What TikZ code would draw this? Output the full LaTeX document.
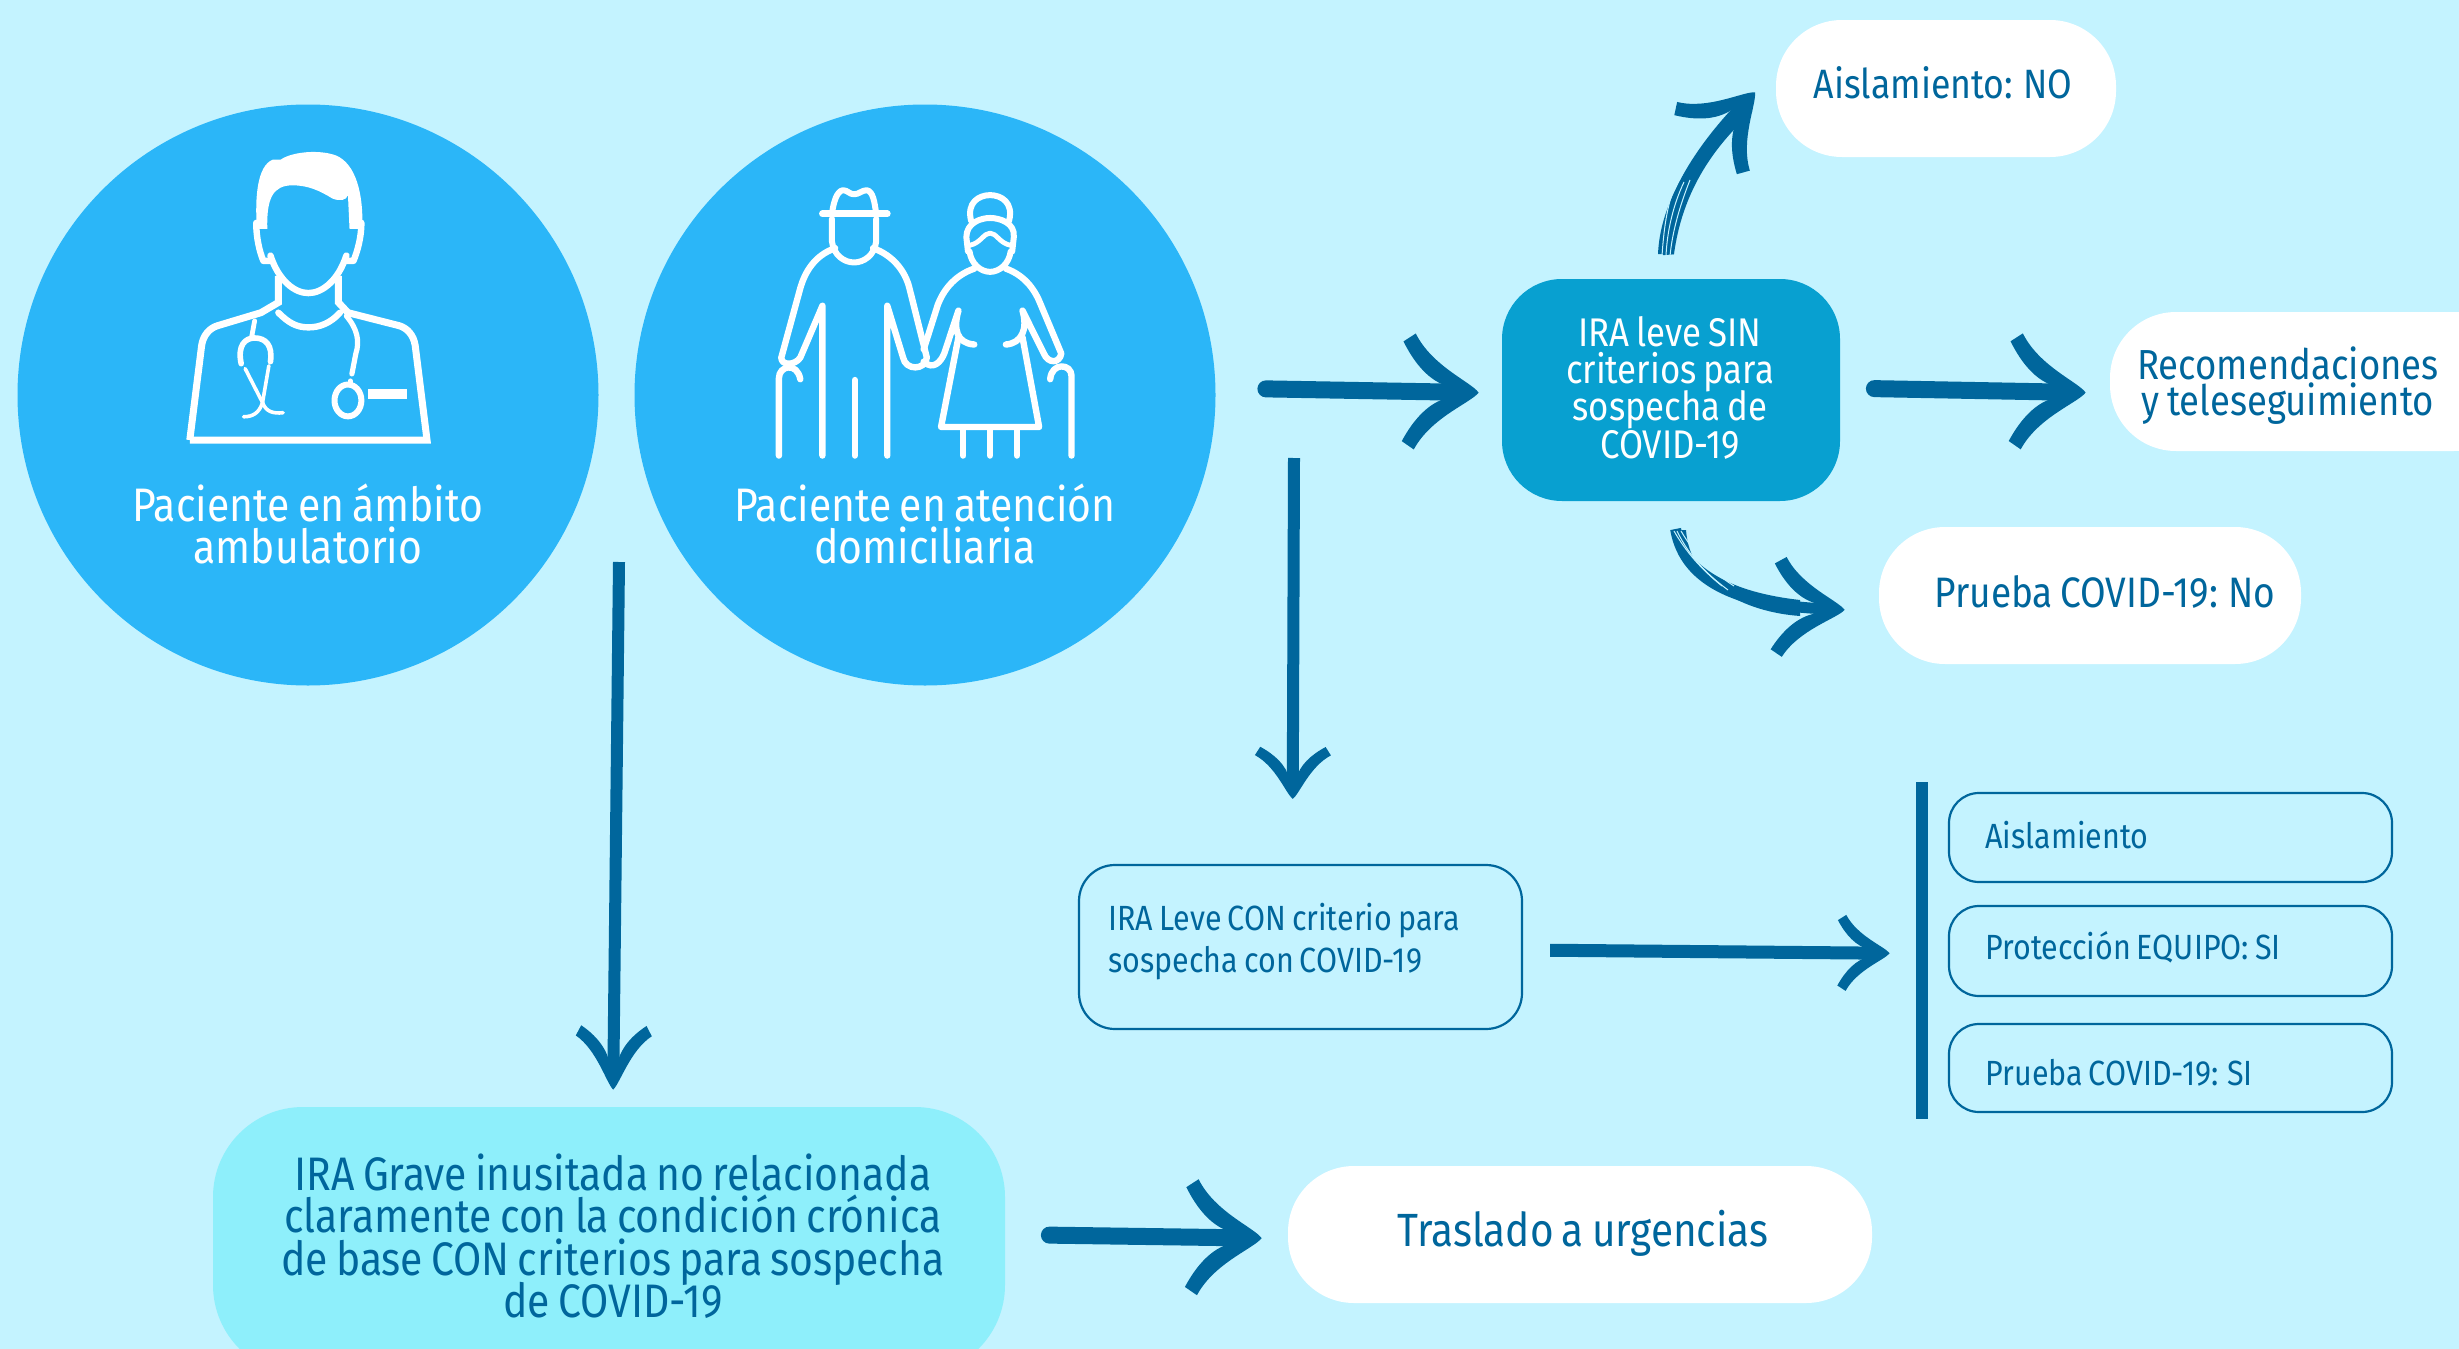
\documentclass[tikz,border=0pt]{standalone}
\usepackage{fontspec}
\setmainfont{Fira Sans}[FakeStretch=0.87,WordSpace=0.75]
\usetikzlibrary{arrows.meta,calc}
\definecolor{bgblue}{HTML}{C4F3FF}
\definecolor{circblue}{HTML}{2BB6F8}
\definecolor{sinblue}{HTML}{08A0D0}
\definecolor{graveblue}{HTML}{8EEFFB}
\definecolor{inkblue}{HTML}{00669C}
\pgfdeclarearrow{
  name=BrushTip,
  parameters={\the\pgfarrowlength,\the\pgfarrowwidth},
  setup code={
    \pgfarrowssettipend{0pt}
    \pgfarrowssetbackend{-\pgfarrowlength}
    \pgfarrowssetlineend{-0.3\pgfarrowlength}
    \pgfarrowssetvisualbackend{-0.3\pgfarrowlength}
    \pgfarrowssavethe\pgfarrowlength
    \pgfarrowssavethe\pgfarrowwidth
  },
  drawing code={
    \pgfpathmoveto{\pgfpoint{0pt}{0pt}}
    \pgfpathcurveto{\pgfpoint{-.1\pgfarrowlength}{.09\pgfarrowwidth}}{\pgfpoint{-.62\pgfarrowlength}{.22\pgfarrowwidth}}{\pgfpoint{-.84\pgfarrowlength}{.5\pgfarrowwidth}}
    \pgfpathlineto{\pgfpoint{-1\pgfarrowlength}{.43\pgfarrowwidth}}
    \pgfpathcurveto{\pgfpoint{-.85\pgfarrowlength}{.24\pgfarrowwidth}}{\pgfpoint{-.65\pgfarrowlength}{.09\pgfarrowwidth}}{\pgfpoint{-.4\pgfarrowlength}{.05\pgfarrowwidth}}
    \pgfpathlineto{\pgfpoint{-.4\pgfarrowlength}{-.05\pgfarrowwidth}}
    \pgfpathcurveto{\pgfpoint{-.65\pgfarrowlength}{-.09\pgfarrowwidth}}{\pgfpoint{-.85\pgfarrowlength}{-.24\pgfarrowwidth}}{\pgfpoint{-1\pgfarrowlength}{-.43\pgfarrowwidth}}
    \pgfpathlineto{\pgfpoint{-.84\pgfarrowlength}{-.5\pgfarrowwidth}}
    \pgfpathcurveto{\pgfpoint{-.62\pgfarrowlength}{-.22\pgfarrowwidth}}{\pgfpoint{-.1\pgfarrowlength}{-.09\pgfarrowwidth}}{\pgfpoint{0pt}{0pt}}
    \pgfpathclose
    \pgfusepathqfill
  },
  defaults={length=38pt,width=55pt}
}
\tikzset{
  bigarrow/.style={draw=inkblue,line width=8.5pt,line cap=round,-{BrushTip[length=38pt,width=58pt,color=inkblue,fill=inkblue]}},
  thinarrow/.style={draw=inkblue,line width=6pt,-{BrushTip[length=#1,width=38pt,color=inkblue,fill=inkblue]}},
  curvearrow/.style={draw=inkblue,line width=5.5pt,-{BrushTip[length=36pt,width=50pt,color=inkblue,fill=inkblue]}},
  streak/.style={draw=bgblue,line width=.5pt},
  circ/.style={circle,fill=circblue,minimum size=290.5pt,inner sep=0pt},
  pill/.style={rectangle,fill=white,rounded corners=33pt,inner sep=0pt},
  outl/.style={rectangle,draw=inkblue,line width=1.1pt,fill=none,inner sep=0pt},
  ico/.style={draw=white,line width=3.2pt,line cap=round,line join=round},
  icothin/.style={draw=white,line width=1.8pt,line cap=round,line join=round},
  lbl/.style={font=\fontsize{#1}{#1}\selectfont,inner sep=0pt,text height={.69*#1},text depth={.17*#1}},
  whitetxt/.style={lbl=#1,text=white,anchor=base},
  inktxt/.style={lbl=#1,text=inkblue,anchor=base},
  inkleft/.style={lbl=#1,text=inkblue,anchor=base west},
}
\begin{document}
\begin{tikzpicture}[x=.5pt,y=-.5pt]
\clip (0,0) rectangle (2459,1349);
\fill[bgblue] (0,0) rectangle (2459,1349);
% main shapes
\node[circ] (c1) at (308,395) {};
\node[circ] (c2) at (925,395) {};
\node[pill,minimum width=170pt,minimum height=68.5pt] (aisNo) at (1946,88.5) {};
\node[rectangle,fill=sinblue,rounded corners=30pt,minimum width=169pt,minimum height=111pt] (iraSin) at (1671,390) {};
\node[pill,minimum width=205pt,minimum height=69.5pt] (recom) at (2315,381.5) {};
\node[pill,minimum width=211pt,minimum height=68.5pt] (pruebaNo) at (2090,595.5) {};
\node[outl,rounded corners=18pt,minimum width=221.5pt,minimum height=82pt] (iraCon) at (1300.5,947) {};
\node[outl,rounded corners=15pt,minimum width=221.5pt,minimum height=44.5pt] (boxAis) at (2170.5,837.5) {};
\node[outl,rounded corners=15pt,minimum width=221.5pt,minimum height=45pt] (boxProt) at (2170.5,951) {};
\node[outl,rounded corners=15pt,minimum width=221.5pt,minimum height=44pt] (boxPru) at (2170.5,1068) {};
\node[rectangle,fill=inkblue,minimum width=6pt,minimum height=168.5pt,inner sep=0pt] (bar) at (1922,950.5) {};
\node[rectangle,fill=graveblue,rounded corners=45pt,minimum width=396pt,minimum height=134pt] (iraGrave) at (609,1241) {};
\node[pill,rounded corners=33pt,minimum width=292pt,minimum height=68.5pt] (traslado) at (1580,1234.5) {};
% texts
\node[whitetxt=23.5pt] (t1a) at (308,521) {Paciente en ámbito};
\node[whitetxt=23.5pt] (t1b) at (308,563) {ambulatorio};
\node[whitetxt=23.5pt] (t2a) at (925,521) {Paciente en atención};
\node[whitetxt=23.5pt] (t2b) at (925,563) {domiciliaria};
\node[inktxt=20.5pt] (tNo) at (1943,98.5) {Aislamiento: NO};
\node[whitetxt=20pt] (s1) at (1670,346.5) {IRA leve SIN};
\node[whitetxt=20pt] (s2) at (1670,383.5) {criterios para};
\node[whitetxt=20pt] (s3) at (1670,420.5) {sospecha de};
\node[whitetxt=20pt] (s4) at (1670,458) {COVID-19};
\node[inktxt=21pt] (r1) at (2288,379) {Recomendaciones};
\node[inktxt=21pt] (r2) at (2288,415.5) {y teleseguimiento};
\node[inktxt=21.3pt] (tPNo) at (2105,607) {Prueba COVID-19: No};
\node[inkleft=17.5pt] (c1t) at (1108,930) {IRA Leve CON criterio para};
\node[inkleft=17.5pt] (c2t) at (1108,972.5) {sospecha con COVID-19};
\node[inkleft=17.5pt] (a1t) at (1985,848) {Aislamiento};
\node[inkleft=17.5pt] (a2t) at (1985,959.5) {Protección EQUIPO: SI};
\node[inkleft=17.5pt] (a3t) at (1985,1085.5) {Prueba COVID-19: SI};
\node[inktxt=23.5pt] (g1) at (613,1190) {IRA Grave inusitada no relacionada};
\node[inktxt=23.5pt] (g2) at (613,1232) {claramente con la condición crónica};
\node[inktxt=23.5pt] (g3) at (613,1275) {de base CON criterios para sospecha};
\node[inktxt=23.5pt] (g4) at (613,1317) {de COVID-19};
\node[inktxt=23.3pt] (tTr) at (1583,1246.5) {Traslado a urgencias};
% connectors
\coordinate (leftStart) at (619,562);
\coordinate (midStart) at (1294,458);
\draw[bigarrow,shorten <=25pt,shorten >=11.5pt] ([yshift=3.5pt]c2.east) -- ([yshift=-1.5pt]iraSin.west);
\draw[bigarrow,shorten <=17pt,shorten >=12pt] ([yshift=1pt]iraSin.east) -- ([yshift=-5.75pt]recom.west);
\draw[bigarrow,shorten <=22pt,shorten >=13pt] (iraGrave.east |- traslado.west) -- ([yshift=-2pt]traslado.west);
\draw[thinarrow=26pt,line width=6.5pt,shorten <=13.5pt,shorten >=13pt] ([yshift=-1.5pt]iraCon.east) -- ([yshift=-1.5pt]bar.west);
\draw[thinarrow=26pt,shorten >=32.5pt] (midStart) -- ([xshift=-4pt]iraCon.north);
\draw[thinarrow=32pt,shorten >=8.5pt] (leftStart) -- ([xshift=2pt]iraGrave.north);
\draw[curvearrow,shorten <=12pt,shorten >=15pt] (iraSin.north) .. controls (1662,200) and (1710,140) .. ([yshift=9pt]aisNo.west);
\draw[curvearrow,shorten <=14pt,shorten >=17pt] (iraSin.south) .. controls (1685,585) and (1745,605) .. ([yshift=-8pt]pruebaNo.west);
% thickening of the curved arrows, thin at the tail
\fill[inkblue] (1658,254) .. controls (1660,205) and (1690,150) .. (1752,94) -- (1752,112) .. controls (1710,150) and (1682,195) .. (1674,254) -- cycle;
\fill[inkblue] (1672,530) .. controls (1695,570) and (1730,592) .. (1800,600) -- (1800,616) .. controls (1745,612) and (1690,585) .. (1686,530) -- cycle;
% brush streaks on the tails of the curved arrows
\draw[streak] (1662,256) .. controls (1664,225) and (1668,200) .. (1678,178);
\draw[streak] (1666,256) .. controls (1667,232) and (1673,205) .. (1684,182);
\draw[streak] (1670,256) .. controls (1672,235) and (1678,210) .. (1690,180);
\draw[streak] (1677,531) .. controls (1690,558) and (1708,575) .. (1728,590);
\draw[streak] (1681,531) .. controls (1695,555) and (1712,572) .. (1734,586);
\draw[streak] (1674,531) .. controls (1686,552) and (1702,570) .. (1722,586);
% doctor icon
\begin{scope}[shift={(0,80)},x=.3954pt,y=-.2041pt]
\draw[ico,line width=3.5pt,line cap=butt,line join=miter] (240,882) -- (540,882) -- (525,650) .. controls (523,625) and (515,608) .. (505,602) -- (440,570) -- (428,545) -- (428,480);
\draw[ico,line width=3.5pt,line cap=butt,line join=miter] (240,882) -- (255,650) .. controls (257,625) and (265,608) .. (275,602) -- (330,570) -- (352,545) -- (352,480);
\draw[ico] (352,570) .. controls (365,595) and (375,606) .. (390,606) .. controls (405,606) and (418,595) .. (430,570);
\draw[ico] (342,430) .. controls (352,490) and (372,522) .. (390,522) .. controls (408,522) and (428,490) .. (438,430);
\draw[ico] (324,350) .. controls (324,385) and (328,420) .. (333,443) -- (342,443);
\draw[ico] (457,350) .. controls (457,385) and (452,420) .. (447,443) -- (438,443);
\fill[white] (325,365) .. controls (322,290) and (325,210) .. (345,195) -- (355,195) .. controls (370,175) and (405,170) .. (425,185) .. controls (450,205) and (460,280) .. (458,365) -- (442,365) -- (440,282) .. controls (438,295) and (430,298) .. (420,290) .. controls (405,272) and (390,258) .. (370,258) .. controls (345,258) and (337,290) .. (338,365) -- cycle;
\draw[ico,line width=2.4pt] (322,590) -- (318,632);
\draw[ico,line width=2.8pt] (305,695) .. controls (300,650) and (310,632) .. (322,632) .. controls (336,632) and (345,650) .. (342,690);
\draw[icothin] (310,707) -- (332,790) .. controls (336,812) and (345,818) .. (358,815);
\draw[icothin] (340,700) -- (332,790) .. controls (328,815) and (320,825) .. (308,825);
\draw[ico,line width=2.6pt] (438,578) .. controls (452,610) and (455,640) .. (450,670) -- (445,720);
\draw[ico,line width=3pt] (440,785) ellipse (17 and 39);
\draw[ico,line width=2.4pt] (443,737) -- (443,748);
\fill[white] (465,758) rectangle (515,782);
% couple icon: man
\draw[ico,line width=3.4pt] (1040,328) -- (1122,328);
\draw[ico,line width=3pt] (1052,328) .. controls (1054,300) and (1058,272) .. (1066,270) .. controls (1072,270) and (1074,280) .. (1080,280) .. controls (1086,280) and (1090,270) .. (1096,270) .. controls (1104,272) and (1106,300) .. (1108,328);
\draw[ico,line width=3pt] (1052,340) -- (1052,395) .. controls (1054,430) and (1068,447) .. (1080,447) .. controls (1092,447) and (1106,430) .. (1108,395) -- (1108,340);
\draw[ico,line width=3.2pt] (1056,412) .. controls (1030,430) and (1018,470) .. (1012,510) -- (988,680) .. controls (988,700) and (1005,700) .. (1012,680) -- (1040,553) -- (1040,920);
\draw[ico,line width=3.2pt] (1104,412) .. controls (1130,430) and (1145,470) .. (1150,510) -- (1172,680) .. controls (1170,712) and (1145,712) .. (1142,680) -- (1122,553) -- (1122,920);
\draw[ico,line width=3.2pt] (1081,735) -- (1081,920);
\draw[ico,line width=3.2pt] (985,920) -- (985,730) .. controls (985,700) and (1008,690) .. (1012,733);
% couple icon: woman
\draw[ico,line width=3pt] (1228,345) .. controls (1222,300) and (1238,282) .. (1252,282) .. controls (1266,282) and (1282,300) .. (1276,345);
\draw[ico,line width=3pt] (1224,420) -- (1222,385) .. controls (1222,350) and (1240,338) .. (1252,338) .. controls (1264,338) and (1284,350) .. (1282,385) -- (1280,420);
\draw[ico,line width=2.4pt] (1226,405) .. controls (1240,400) and (1244,375) .. (1252,375) .. controls (1260,375) and (1264,400) .. (1278,405);
\draw[ico,line width=3pt] (1226,420) .. controls (1228,450) and (1240,470) .. (1252,470) .. controls (1264,470) and (1276,450) .. (1278,420);
\draw[ico,line width=3.2pt] (1232,462) .. controls (1205,480) and (1192,520) .. (1186,550) -- (1168,660);
\draw[ico,line width=3.2pt] (1168,690) .. controls (1180,712) and (1190,690) .. (1194,670) -- (1212,565) .. controls (1205,610) and (1210,645) .. (1232,648);
\draw[ico,line width=3.2pt] (1272,462) .. controls (1298,480) and (1310,520) .. (1316,550) -- (1342,670) .. controls (1340,695) and (1325,695) .. (1320,670) -- (1293,565) .. controls (1300,610) and (1292,645) .. (1272,648);
\draw[ico,line width=3.2pt,line join=round] (1212,630) -- (1190,850) -- (1314,850) -- (1293,630);
\draw[ico,line width=3.2pt] (1218,855) -- (1218,920);
\draw[ico,line width=3.2pt] (1252,855) -- (1252,920);
\draw[ico,line width=3.2pt] (1286,855) -- (1286,920);
\draw[ico,line width=3.2pt] (1355,920) -- (1355,725) .. controls (1355,695) and (1330,690) .. (1328,733);
\end{scope}
\end{tikzpicture}
\end{document}
